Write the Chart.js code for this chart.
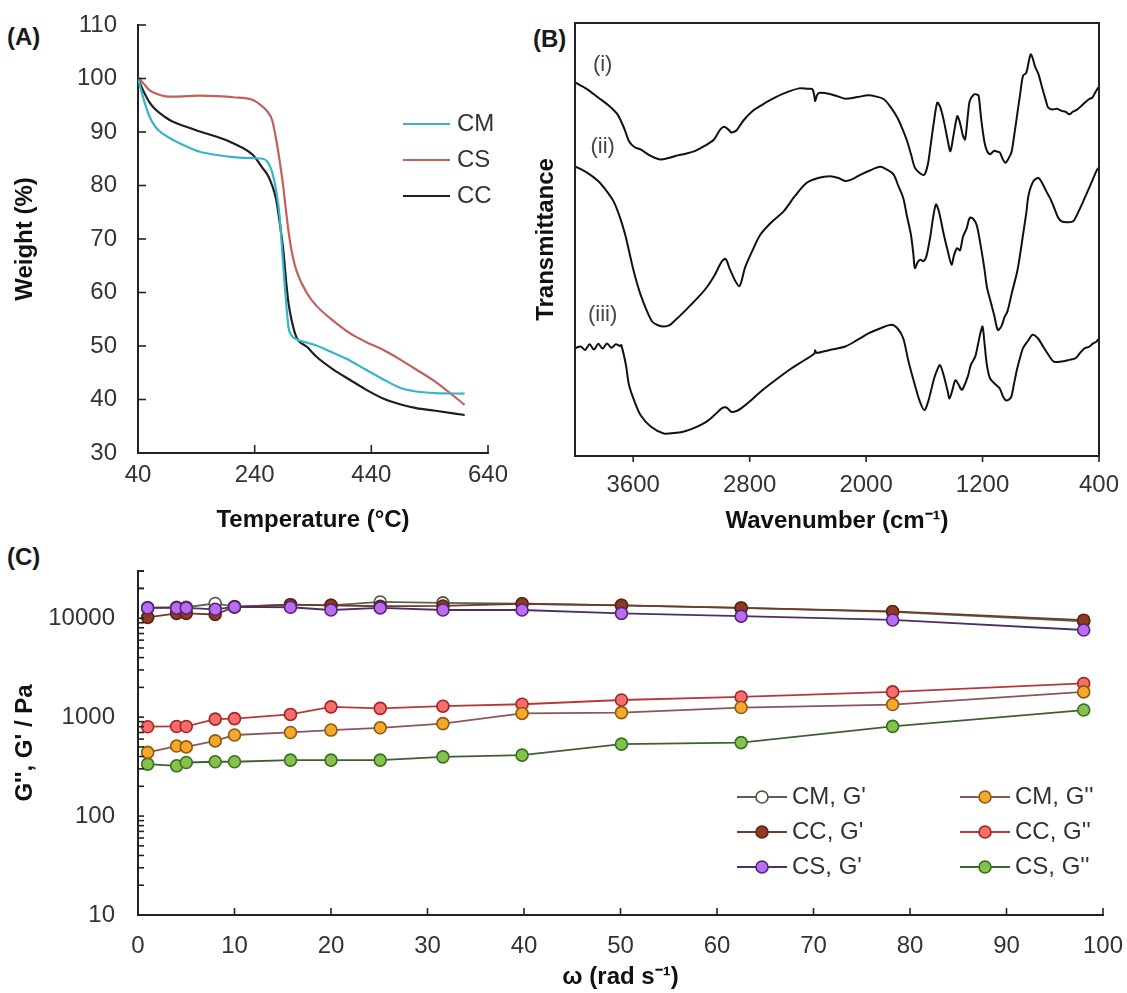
<!DOCTYPE html>
<html>
<head>
<meta charset="utf-8">
<script src="https://cdn.jsdelivr.net/npm/chart.js@4/dist/chart.umd.min.js"></script>
<style>
  body { margin: 0; background: #fff; width: 1127px; height: 993px; position: relative; overflow: hidden; }
  canvas { position: absolute; }
  #cA { left: 0; top: 0; }
  #cB { left: 520px; top: 0; }
  #cC { left: 0; top: 540px; }
  .tag { position: absolute; font: bold 24px "Liberation Sans", Arial, sans-serif; color: #1a1a1a; }
</style>
</head>
<body>
<div class="tag" style="left:7px;top:23px">(A)</div>
<div class="tag" style="left:533px;top:25px">(B)</div>
<div class="tag" style="left:7px;top:543px">(C)</div>
<canvas id="cA" width="520" height="545"></canvas>
<canvas id="cB" width="607" height="545"></canvas>
<canvas id="cC" width="1127" height="453"></canvas>
<script>
// ---- (A) TGA ----
const tempA = [40, 50, 60, 71, 85, 100, 125, 146, 175, 203, 237, 254, 262, 270, 277, 283, 289, 294, 298, 303, 311, 330, 346, 375, 403, 430, 460, 489, 517, 550, 600];
const cmWeight = [100, 96, 92.8, 90.8, 89.5, 88.5, 87.2, 86.3, 85.7, 85.3, 85.1, 85.0, 84.4, 82.5, 79, 74, 65, 58, 53.5, 52, 51.3, 50.6, 50.1, 48.7, 47.3, 45.6, 43.8, 42.2, 41.5, 41.2, 41.1];
const csWeight = [100.3, 99, 97.8, 97.2, 96.7, 96.6, 96.7, 96.8, 96.7, 96.5, 96, 94.7, 93.8, 92.2, 88.5, 84.5, 79.8, 75, 71.5, 68, 64.3, 59.8, 57.5, 54.7, 52.4, 50.8, 49.3, 47.5, 45.6, 43.3, 39];
const ccWeight = [100, 97.5, 95.5, 94.1, 92.9, 91.9, 90.9, 90.1, 89.1, 87.9, 85.7, 83.2, 82, 80, 77.3, 73, 68, 62, 58, 55, 51.8, 49.8, 48, 45.6, 43.7, 41.9, 40.2, 39.1, 38.4, 37.9, 37.1];
const tempTicks = [40, 240, 440, 640];
const weightTicks = [30, 40, 50, 60, 70, 80, 90, 100, 110];

// ---- (B) FTIR ----
const waveI = [4000, 3920, 3841, 3770, 3708, 3660, 3629, 3590, 3549, 3480, 3416, 3360, 3310, 3240, 3178, 3110, 3045, 3000, 2970, 2935, 2926, 2900, 2886, 2840, 2780, 2720, 2647, 2560, 2461, 2400, 2369, 2355, 2350, 2335, 2315, 2249, 2190, 2143, 2060, 1984, 1930, 1878, 1830, 1785, 1750, 1718, 1690, 1665, 1630, 1599, 1575, 1559, 1535, 1511, 1490, 1466, 1440, 1421, 1400, 1374, 1360, 1347, 1335, 1320, 1300, 1288, 1260, 1240, 1227, 1210, 1188, 1170, 1148, 1120, 1100, 1082, 1060, 1042, 1025, 1002, 985, 962, 940, 922, 900, 880, 869, 855, 840, 816, 790, 760, 750, 720, 690, 657, 630, 604, 580, 550, 524, 500, 470, 445, 425, 405];
const transI = [86.3, 84.8, 82.8, 81.0, 78.9, 75.5, 72.7, 71.3, 70.8, 69.3, 68.5, 68.8, 69.3, 69.8, 70.4, 71.6, 73.1, 75.5, 76.0, 75.0, 74.7, 75.0, 75.4, 77.6, 79.7, 81.0, 82.4, 83.8, 84.9, 84.8, 84.7, 83.0, 82.0, 83.5, 83.9, 83.6, 83.0, 82.5, 82.9, 83.3, 83.0, 82.4, 80.5, 78.1, 75.5, 72.7, 69.5, 66.6, 65.3, 65.0, 67.5, 71.2, 77.0, 81.6, 80.5, 77.4, 73.0, 70.4, 74.0, 78.5, 77.5, 75.8, 74.0, 73.1, 79.0, 82.0, 83.5, 83.5, 83.2, 78.0, 72.7, 70.5, 69.7, 70.5, 70.3, 70.1, 68.5, 67.7, 68.5, 70.1, 73.5, 78.9, 84.0, 87.8, 88.5, 91.5, 92.8, 91.8, 90.0, 88.2, 85.0, 81.5, 80.5, 80.0, 80.2, 79.7, 79.5, 78.9, 79.5, 80.0, 80.8, 81.5, 82.4, 82.8, 84.0, 85.1];
const waveII = [4000, 3920, 3841, 3790, 3735, 3690, 3655, 3630, 3602, 3575, 3549, 3510, 3469, 3430, 3390, 3350, 3310, 3260, 3204, 3150, 3098, 3045, 2992, 2965, 2939, 2900, 2872, 2855, 2833, 2780, 2727, 2650, 2567, 2490, 2408, 2330, 2249, 2190, 2143, 2090, 2037, 1970, 1904, 1860, 1811, 1780, 1745, 1720, 1692, 1675, 1665, 1645, 1626, 1605, 1586, 1560, 1540, 1520, 1500, 1466, 1440, 1413, 1395, 1374, 1355, 1334, 1310, 1288, 1265, 1241, 1215, 1188, 1170, 1148, 1120, 1095, 1070, 1050, 1029, 1000, 962, 940, 922, 900, 883, 850, 816, 790, 760, 737, 710, 680, 657, 620, 578, 540, 498, 460, 418, 405];
const transII = [66.9, 65.5, 63.5, 61.5, 58.8, 55.0, 51.1, 47.5, 43.4, 40.0, 37.2, 33.8, 31.0, 30.2, 29.9, 30.2, 31.4, 33.0, 34.9, 36.8, 38.8, 41.5, 44.9, 45.5, 43.4, 40.5, 39.2, 40.5, 43.4, 47.5, 51.1, 54.0, 56.5, 60.0, 63.1, 64.2, 64.6, 64.2, 63.5, 64.0, 65.0, 66.0, 66.8, 66.2, 65.0, 62.5, 59.6, 55.5, 51.1, 46.5, 43.4, 44.8, 45.3, 45.0, 46.1, 50.5, 55.0, 58.1, 56.5, 51.1, 47.5, 44.2, 46.5, 48.0, 47.5, 50.7, 52.5, 55.0, 54.8, 53.4, 49.0, 43.4, 39.0, 36.1, 32.5, 29.1, 30.0, 32.0, 33.4, 37.5, 42.6, 47.0, 51.1, 56.0, 60.4, 63.5, 64.2, 63.0, 61.0, 59.6, 57.5, 55.0, 54.2, 54.0, 54.2, 56.5, 59.6, 62.5, 65.8, 66.5];
const waveIII = [4000, 3960, 3930, 3900, 3870, 3840, 3810, 3780, 3750, 3720, 3690, 3682, 3650, 3629, 3590, 3549, 3480, 3390, 3320, 3257, 3180, 3098, 3040, 2992, 2960, 2926, 2890, 2859, 2800, 2727, 2620, 2514, 2430, 2355, 2350, 2340, 2250, 2143, 2060, 1984, 1900, 1825, 1785, 1745, 1710, 1665, 1630, 1599, 1570, 1533, 1510, 1493, 1470, 1440, 1427, 1405, 1387, 1365, 1345, 1334, 1300, 1281, 1250, 1230, 1214, 1200, 1188, 1170, 1148, 1110, 1082, 1060, 1042, 1020, 1002, 985, 962, 940, 922, 890, 856, 820, 790, 750, 710, 660, 604, 560, 530, 498, 470, 440, 418, 405];
const transIII = [24.9, 25.3, 24.5, 25.8, 24.6, 25.9, 24.8, 26.0, 25.0, 25.8, 25.4, 25.6, 21.0, 16.4, 12.5, 9.4, 6.8, 5.2, 5.3, 5.6, 6.5, 7.9, 9.5, 11.0, 11.2, 10.2, 10.4, 11.0, 12.6, 14.8, 17.6, 20.2, 22.0, 23.7, 24.4, 23.8, 24.5, 25.3, 26.8, 28.3, 29.5, 30.3, 29.5, 27.2, 22.0, 16.4, 12.5, 10.6, 13.0, 17.9, 20.0, 21.0, 19.0, 15.0, 13.3, 15.5, 17.5, 16.5, 15.3, 15.6, 18.5, 21.0, 23.0, 26.0, 28.5, 29.9, 26.5, 21.0, 17.9, 16.5, 15.6, 13.8, 12.9, 13.0, 13.7, 16.5, 20.2, 23.0, 24.9, 26.5, 28.0, 27.2, 25.6, 23.5, 21.8, 21.8, 22.2, 22.6, 23.8, 24.9, 25.2, 26.0, 26.4, 27.0];
const waveTicks = [3600, 2800, 2000, 1200, 400];
const tagText = ['(i)', '(ii)', '(iii)'];
const tagWave = [3810, 3810, 3810];
const tagLevel = [90.3, 71.4, 32.6];

// ---- (C) rheology ----
const omega = [1, 4, 5, 8, 10, 15.8, 20, 25.1, 31.6, 39.8, 50.1, 62.5, 78.2, 98];
const cmG1 = [12800, 12900, 12900, 14100, 13100, 13700, 13500, 14600, 14300, 14000, 13500, 12700, 11600, 9300];
const ccG1 = [10200, 11200, 11200, 10900, 13000, 13700, 13500, 13200, 13300, 14000, 13500, 12700, 11700, 9550];
const csG1 = [12700, 12700, 12700, 12300, 13000, 12900, 12100, 12700, 12100, 12100, 11200, 10500, 9600, 7600];
const cmG2 = [440, 510, 500, 575, 660, 700, 740, 780, 860, 1090, 1110, 1250, 1340, 1800];
const ccG2 = [800, 805, 805, 955, 965, 1065, 1270, 1225, 1290, 1350, 1490, 1600, 1800, 2190];
const csG2 = [335, 322, 348, 354, 354, 368, 368, 368, 397, 413, 533, 553, 807, 1180];
const omegaTicks = [0, 10, 20, 30, 40, 50, 60, 70, 80, 90, 100];
const modulusLabels = [10, 100, 1000, 10000];
const modulusTicks = [];
modulusLabels.forEach(d => { for (let k = 1; k <= 9; k++) if (d * k <= 30000) modulusTicks.push(d * k); });
modulusTicks.push(20000, 30000);

const family = '"Liberation Sans", Arial, Helvetica, sans-serif';
const ink = '#222';
const tickFont = { family, size: 24 };
const titleFont = { family, size: 24, weight: 'bold' };
const fixTicks = list => s => { s.ticks = list.map(v => ({ value: v })); };
const pts = (xs, ys) => xs.map((x, i) => ({ x, y: ys[i] }));
const plain = v => String(v);
// fixed axis box size, and no extra room for overhanging labels
const fitX = h => s => { s.height = h; s.paddingLeft = s.paddingRight = s.paddingTop = s.paddingBottom = 0; };
const fitY = w => s => { s.width = w; s.paddingLeft = s.paddingRight = s.paddingTop = s.paddingBottom = 0; };

// tick marks drawn from the scales (inward when len > 0)
const innerTicks = {
  id: 'innerTicks',
  afterDatasetsDraw(chart, args, o) {
    const { ctx, chartArea: ca } = chart;
    ctx.save();
    ctx.strokeStyle = ink;
    ctx.lineWidth = 1.6;
    o.axes.forEach(a => {
      const s = chart.scales[a.id];
      s.ticks.forEach(t => {
        const p = s.getPixelForValue(t.value);
        ctx.beginPath();
        if (s.isHorizontal()) { ctx.moveTo(p, ca.bottom); ctx.lineTo(p, ca.bottom - a.len); }
        else { ctx.moveTo(ca.left, p); ctx.lineTo(ca.left + a.len, p); }
        ctx.stroke();
      });
    });
    ctx.restore();
  }
};

const lineLegend = {
  id: 'lineLegend',
  afterDraw(chart, args, o) {
    const { ctx, chartArea: ca } = chart;
    ctx.save();
    ctx.font = `24px ${family}`;
    ctx.textBaseline = 'middle';
    chart.data.datasets.forEach((ds, i) => {
      const y = ca.top + o.top + i * o.step;
      const x0 = ca.left + o.left;
      ctx.strokeStyle = ds.borderColor;
      ctx.lineWidth = ds.borderWidth;
      ctx.beginPath(); ctx.moveTo(x0, y); ctx.lineTo(x0 + o.len, y); ctx.stroke();
      ctx.fillStyle = '#333';
      ctx.fillText(ds.label, x0 + o.len + o.gap, y);
    });
    ctx.restore();
  }
};

const boxFrame = {
  id: 'boxFrame',
  afterDraw(chart) {
    const { ctx, chartArea: ca } = chart;
    ctx.save();
    ctx.strokeStyle = ink;
    ctx.lineWidth = 2;
    ctx.strokeRect(ca.left, ca.top, ca.right - ca.left, ca.bottom - ca.top);
    ctx.restore();
  }
};

const curveTags = {
  id: 'curveTags',
  afterDraw(chart) {
    const { ctx, scales } = chart;
    ctx.save();
    ctx.font = `22px ${family}`;
    ctx.fillStyle = '#444';
    ctx.textAlign = 'center';
    ctx.textBaseline = 'middle';
    tagText.forEach((t, i) => ctx.fillText(t, scales.x.getPixelForValue(tagWave[i]), scales.y.getPixelForValue(tagLevel[i])));
    ctx.restore();
  }
};

const gridLegend = {
  id: 'gridLegend',
  afterDraw(chart, args, o) {
    const { ctx, chartArea: ca } = chart;
    ctx.save();
    ctx.font = `24px ${family}`;
    ctx.textBaseline = 'middle';
    chart.data.datasets.forEach((ds, i) => {
      const x0 = ca.left + o.cols[Math.floor(i / 3)];
      const y = ca.top + o.top + (i % 3) * o.step;
      ctx.strokeStyle = ds.borderColor;
      ctx.lineWidth = 1.8;
      ctx.beginPath(); ctx.moveTo(x0, y); ctx.lineTo(x0 + o.len, y); ctx.stroke();
      ctx.beginPath();
      ctx.arc(x0 + o.len / 2, y, ds.pointRadius, 0, Math.PI * 2);
      ctx.fillStyle = ds.pointBackgroundColor; ctx.fill();
      ctx.strokeStyle = ds.pointBorderColor; ctx.lineWidth = ds.pointBorderWidth; ctx.stroke();
      ctx.fillStyle = '#333';
      ctx.fillText(ds.label, x0 + o.len + o.gap, y);
    });
    ctx.restore();
  }
};

const base = { responsive: false, animation: false, devicePixelRatio: 1 };
const axisBorder = { display: true, color: ink, width: 2 };
const noGrid = { display: false, drawTicks: false };

// (A)
const tgaLine = (label, data, color) => ({ label, data: pts(tempA, data), borderColor: color, borderWidth: 2.2, pointRadius: 0, cubicInterpolationMode: 'monotone' });
new Chart(document.getElementById('cA'), {
  type: 'line',
  data: { datasets: [tgaLine('CM', cmWeight, '#36b4c9'), tgaLine('CS', csWeight, '#c4605b'), tgaLine('CC', ccWeight, '#1e1e1e')] },
  options: { ...base,
    layout: { padding: { left: 0, top: 25, right: 32, bottom: 0 } },
    plugins: { legend: { display: false }, tooltip: { enabled: false },
      innerTicks: { axes: [{ id: 'x', len: 8 }, { id: 'y', len: 8 }] },
      lineLegend: { left: 265, top: 99, step: 36, len: 47, gap: 7 } },
    scales: {
      x: { type: 'linear', min: 40, max: 640, afterBuildTicks: fixTicks(tempTicks), afterFit: fitX(92),
        grid: noGrid, border: axisBorder,
        ticks: { font: tickFont, color: '#333', padding: 8, autoSkip: false, maxRotation: 0, callback: plain },
        title: { display: true, text: 'Temperature (°C)', font: titleFont, color: '#111', padding: { top: 0, bottom: 10 } } },
      y: { min: 30, max: 110, afterBuildTicks: fixTicks(weightTicks), afterFit: fitY(138),
        grid: noGrid, border: axisBorder,
        ticks: { font: tickFont, color: '#333', padding: 21, callback: plain },
        title: { display: true, text: 'Weight (%)', font: titleFont, color: '#111', padding: { top: 11, bottom: 0 } } }
    } },
  plugins: [innerTicks, lineLegend]
});

// (B)
const irLine = (label, w, t) => ({ label, data: pts(w, t), borderColor: '#111', borderWidth: 2, pointRadius: 0, tension: 0.3 });
new Chart(document.getElementById('cB'), {
  type: 'line',
  data: { datasets: [irLine('(i)', waveI, transI), irLine('(ii)', waveII, transII), irLine('(iii)', waveIII, transIII)] },
  options: { ...base,
    layout: { padding: { left: 0, top: 23, right: 28, bottom: 0 } },
    plugins: { legend: { display: false }, tooltip: { enabled: false },
      innerTicks: { axes: [{ id: 'x', len: -6 }] } },
    scales: {
      x: { type: 'linear', min: 400, max: 4000, reverse: true, afterBuildTicks: fixTicks(waveTicks), afterFit: fitX(89),
        grid: noGrid, border: { display: false },
        ticks: { font: tickFont, color: '#333', padding: 15, autoSkip: false, maxRotation: 0, callback: plain },
        title: { display: true, text: 'Wavenumber (cm⁻¹)', font: titleFont, color: '#111', padding: { top: 0, bottom: 9 } } },
      y: { min: 0, max: 100, afterFit: fitY(55),
        grid: noGrid, border: { display: false },
        ticks: { display: false },
        title: { display: true, text: 'Transmittance', font: titleFont, color: '#111', padding: { top: 12, bottom: 0 } } }
    } },
  plugins: [innerTicks, boxFrame, curveTags]
});

// (C)
const rheo = (label, data, line, fill, edge, order) => ({ label, data: pts(omega, data), order,
  borderColor: line, borderWidth: 1.8, tension: 0,
  pointRadius: 6, pointBackgroundColor: fill, pointBorderColor: edge, pointBorderWidth: 1.6 });
new Chart(document.getElementById('cC'), {
  type: 'line',
  data: { datasets: [
    rheo("CM, G'", cmG1, '#5a6450', '#ffffff', '#4a5540', 3),
    rheo("CC, G'", ccG1, '#6e3b2c', '#8e3a22', '#5a2416', 2),
    rheo("CS, G'", csG1, '#4d2f66', '#bb6cf0', '#55237a', 1),
    rheo("CM, G''", cmG2, '#8a5656', '#f5a82a', '#8c5a12', 4),
    rheo("CC, G''", ccG2, '#b8383a', '#f56e6e', '#a82222', 5),
    rheo("CS, G''", csG2, '#3f5f34', '#84c24c', '#3b6e25', 6)
  ] },
  options: { ...base,
    layout: { padding: { left: 0, top: 31, right: 24, bottom: 0 } },
    plugins: { legend: { display: false }, tooltip: { enabled: false },
      innerTicks: { axes: [{ id: 'x', len: 7 }, { id: 'y', len: 6 }] },
      gridLegend: { cols: [599, 822], top: 226, step: 35, len: 50, gap: 5 } },
    scales: {
      x: { type: 'linear', min: 0, max: 100, afterBuildTicks: fixTicks(omegaTicks), afterFit: fitX(78),
        grid: noGrid, border: axisBorder,
        ticks: { font: tickFont, color: '#333', padding: 17, autoSkip: false, maxRotation: 0, callback: plain },
        title: { display: true, text: 'ω (rad s⁻¹)', font: titleFont, color: '#111', padding: { top: 0, bottom: 1 } } },
      y: { type: 'logarithmic', min: 10, max: 30000, afterBuildTicks: fixTicks(modulusTicks), afterFit: fitY(138),
        grid: noGrid, border: axisBorder,
        ticks: { font: tickFont, color: '#333', padding: 23, autoSkip: false,
          callback: v => modulusLabels.includes(v) ? String(v) : '' },
        title: { display: true, text: "G'', G' / Pa", font: titleFont, color: '#111', padding: { top: 11, bottom: 0 } } }
    } },
  plugins: [innerTicks, gridLegend]
});
</script>
</body>
</html>
